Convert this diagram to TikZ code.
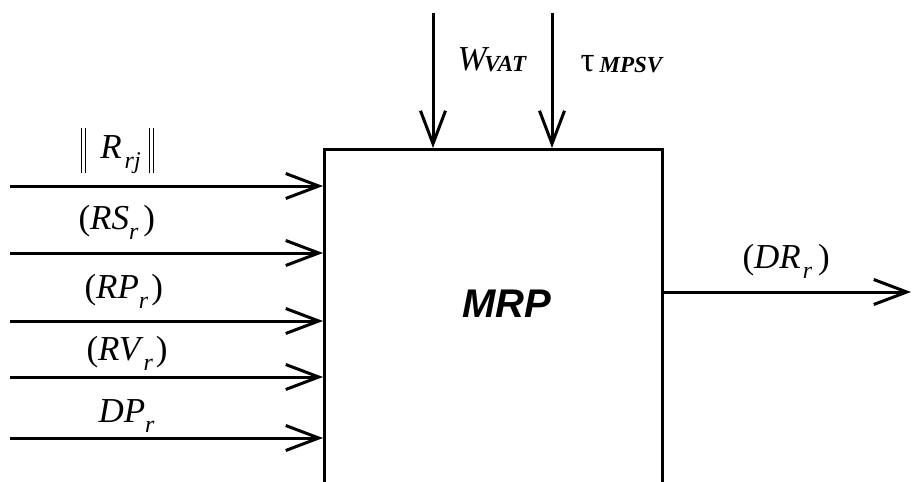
\documentclass[tikz,border=0pt]{standalone}
\usepackage{fontspec}
\setmainfont{Liberation Serif}
\newfontfamily\arialfont{Liberation Sans}
\usetikzlibrary{arrows.meta}
\newcommand\lsub[1]{\raisebox{-0.3em}{\fontsize{24}{26}\selectfont\itshape #1}}
\newcommand\bsub[1]{\raisebox{-0.05em}{\fontsize{23}{26}\selectfont\bfseries\itshape #1}}
\newcommand\dbar{\rule[-15pt]{1.6pt}{45pt}\hspace{2.6pt}\rule[-15pt]{1.6pt}{45pt}}
\begin{document}
\begin{tikzpicture}[x=1pt,y=-1pt,line width=3pt,
  conn/.style={-{Straight Barb[length=33pt,width=25pt,line width=3pt]}},
  lbl/.style={font=\fontsize{35}{40}\selectfont, inner sep=0pt, anchor=base west},
  blockbox/.style={draw, line width=3pt, minimum width=338pt, minimum height=360pt, anchor=north west, inner sep=0pt},
]
\useasboundingbox (0,0) rectangle (916,482);
\clip (0,0) rectangle (916,482);
\node[blockbox] (mrpbox) at (323,148) {};
\node[font=\arialfont\bfseries\itshape\fontsize{40}{44}\selectfont, inner sep=0pt, anchor=base west] (mrp) at (461,317) {MRP};

% inputs from the left
\coordinate (in1) at (10,186);
\coordinate (in2) at (10,253);
\coordinate (in3) at (10,321);
\coordinate (in4) at (10,377);
\coordinate (in5) at (10,438);
\foreach \c in {in1,in2,in3,in4,in5}
  \draw[conn] (\c) -- (\c -| mrpbox.west);

% inputs from the top
\coordinate (topw) at (433,13);
\coordinate (topt) at (552,13);
\draw[conn] (topw) -- (topw |- mrpbox.north);
\draw[conn] (topt) -- (topt |- mrpbox.north);

% output
\coordinate (outr) at (911,292);
\draw[conn] (outr -| mrpbox.east) -- (outr);

% labels
\node[lbl] (l1) at (79,158) {\dbar\hspace{14pt}\textit{R}\hspace{3pt}\lsub{rj}\hspace{8pt}\dbar};
\node[lbl] (l2) at (77,229) {(\textit{RS}\lsub{r}\hspace{5pt})};
\node[lbl] (l3) at (83,298) {(\textit{RP}\lsub{r}\hspace{3pt})};
\node[lbl] (l4) at (85,360) {(\textit{RV}\lsub{r}\hspace{3pt})};
\node[lbl] (l5) at (97,422) {\textit{DP}\lsub{r}};
\node[lbl] (l6) at (741,268) {(\textit{DR}\hspace{2pt}\lsub{r}\hspace{6pt})};
\node[lbl] (l7) at (456,70) {\textit{W}\hspace{-5pt}\bsub{VAT}};
\node[lbl] (l8) at (579,71) {τ\hspace{5pt}\bsub{MPSV}};
\end{tikzpicture}
\end{document}
